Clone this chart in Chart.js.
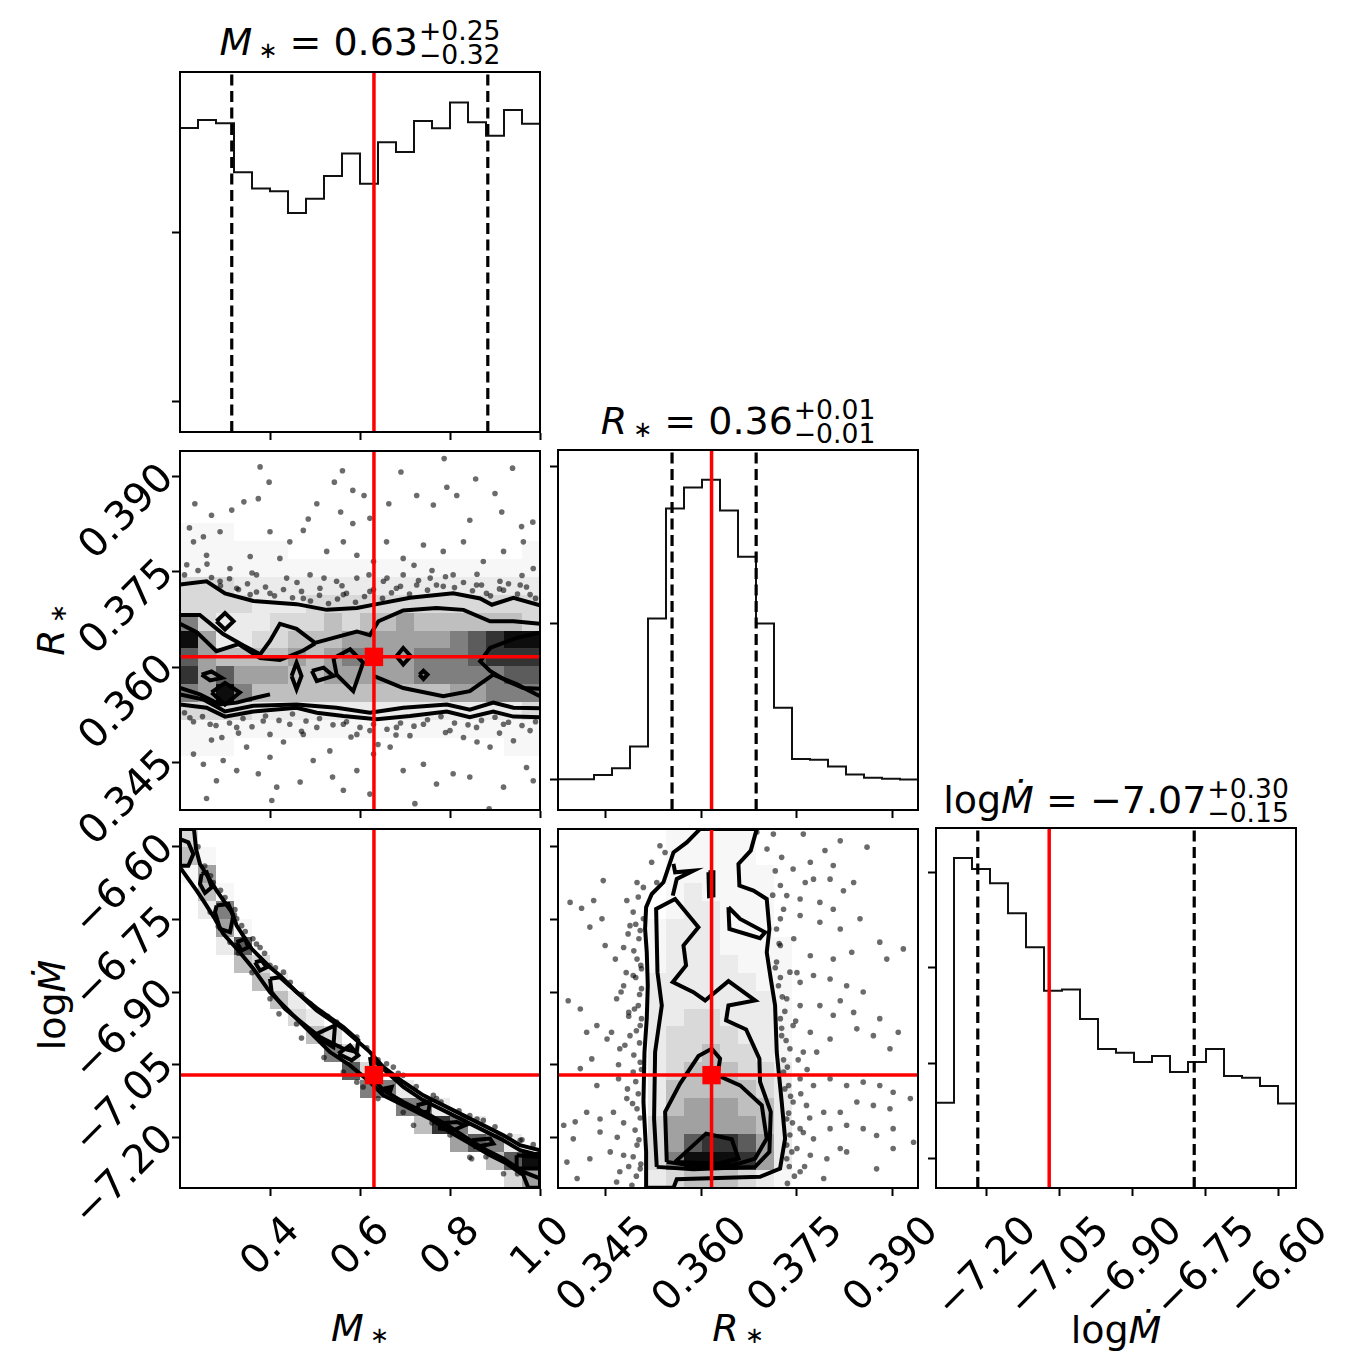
<!DOCTYPE html>
<html>
<head>
<meta charset="utf-8">
<title>corner plot</title>
<script src="https://cdn.jsdelivr.net/npm/chart.js@4.4.1/dist/chart.umd.min.js"></script>
<style>
  body { margin: 0; background: #fff; }
  #fig { position: relative; width: 1368px; height: 1368px; overflow: hidden; font-family: "DejaVu Sans", sans-serif; color: #000; }
  #fig canvas { position: absolute; }
  .ttl { position: absolute; font-size: 38px; white-space: nowrap; line-height: 1; transform: translateX(-50%); }
  .pm { display: inline-block; font-size: 0.7em; line-height: 0.92; vertical-align: -9px; margin-left: 1px; }
  .pm span { display: block; }
  .ax { position: absolute; font-size: 38px; white-space: nowrap; line-height: 1; transform: translateX(-50%); }
  .rot { transform: translate(-50%, -50%) rotate(-90deg); }
  sub { font-size: 0.6em; vertical-align: -0.1em; margin-left: 6px; }
  i { font-style: oblique; }
</style>
</head>
<body>
<div id="fig">
  <div class="ttl" style="left:360px;top:19px"><i>M</i><sub>∗</sub> = 0.63<span class="pm"><span>+0.25</span><span>−0.32</span></span></div>
  <div class="ttl" style="left:738px;top:398px"><i>R</i><sub>∗</sub> = 0.36<span class="pm"><span>+0.01</span><span>−0.01</span></span></div>
  <div class="ttl" style="left:1116px;top:777px">log<i>Ṁ</i> = −7.07<span class="pm"><span>+0.30</span><span>−0.15</span></span></div>
  <div class="ax" style="left:360px;top:1309px"><i>M</i><sub>∗</sub></div>
  <div class="ax" style="left:738px;top:1309px"><i>R</i><sub>∗</sub></div>
  <div class="ax" style="left:1116px;top:1311px">log<i>Ṁ</i></div>
  <div class="ax rot" style="left:51px;top:630px"><i>R</i><sub>∗</sub></div>
  <div class="ax rot" style="left:52px;top:1005px">log<i>Ṁ</i></div>
</div>
<script>
// ---- parameter ranges and ticks ----
const mRange = [0.2, 1.0];
const rRange = [0.3375, 0.3940];
const lRange = [-7.3045, -6.5635];
const mTicks = [0.4, 0.6, 0.8, 1.0];
const rTicks = [0.345, 0.360, 0.375, 0.390];
const lTicks = [-7.20, -7.05, -6.90, -6.75, -6.60];

// ---- 1d histograms (20 bins across each range) ----
const histM = [1.621, 1.669, 1.649, 1.359, 1.263, 1.247, 1.118, 1.203, 1.337, 1.470, 1.292, 1.537, 1.479, 1.663, 1.620, 1.772, 1.655, 1.576, 1.728, 1.647];
const histR = [0.004, 0.004, 0.032, 0.074, 0.213, 1.030, 1.731, 1.866, 1.915, 1.719, 1.424, 0.998, 0.461, 0.134, 0.128, 0.085, 0.034, 0.013, 0.008, 0.002];
const histL = [0.583, 3.152, 3.036, 2.888, 2.573, 2.215, 1.758, 1.772, 1.463, 1.147, 1.109, 1.011, 1.074, 0.905, 1.011, 1.147, 0.863, 0.846, 0.758, 0.576];
const histMRange = [-0.178, 1.953];
const histRRange = [-0.192, 2.105];
const histLRange = [-0.312, 3.467];
const histMTicks = [0, 1];
const histRTicks = [0, 1, 2];
const histLTicks = [0, 1, 2, 3];

// quantiles (16%, 84%) and truth values
const qM = [0.315, 0.884];
const qR = [0.3554, 0.3686];
const qL = [-7.2185, -6.773];
const truthM = 0.631;
const truthR = 0.3616;
const truthL = -7.0715;

// ---- 2d histogram grey levels (0-9), top row = highest y ----
const gridMR = [
  "00000000000000000000",
  "00000000000000000000",
  "00000000000000000000",
  "00000000000000000000",
  "11100000000000000000",
  "11111100000000000001",
  "11111111111111111111",
  "33322222222222222222",
  "33332223333333333333",
  "63222333434454444443",
  "95223344455555567899",
  "75444454566556667888",
  "85755544555556666677",
  "65964444444444455666",
  "33332222222222222223",
  "11111111111111111111",
  "11100000000000000011",
  "00000000000000000000",
  "00000000000000000000",
  "00000000000000000000"
];
const gridML = [
  "30000000000000000000",
  "41000000000000000000",
  "15000000000000000000",
  "04100000000000000000",
  "02600000000000000000",
  "00510000000000000000",
  "00270000000000000000",
  "00043000000000000000",
  "00004200000000000000",
  "00000420000000000000",
  "00000032000000000000",
  "00000004300000000000",
  "00000000630000000000",
  "00000000073000000000",
  "00000000006620000000",
  "00000000000066200000",
  "00000000000004862000",
  "00000000000000057620",
  "00000000000000000479",
  "00000000000000000035"
];
const gridRL = [
  "00000011111000000000",
  "00000011111000000000",
  "00000011111100000000",
  "00000012111100000000",
  "00000012211100000000",
  "00000122211100000000",
  "00000122211110000000",
  "00000122221110000000",
  "00000222222110000000",
  "00000222222210000000",
  "00000223322210000000",
  "00000233332210000000",
  "00000233433210000000",
  "00000234443320000000",
  "00000244444320000000",
  "00000245554420000000",
  "00000355555420000000",
  "00000357887520000000",
  "00000369998520000000",
  "00000234443210000000"
];

// ---- contours (data coordinates) ----
const mrTop1 = [[0.200,0.3730],[0.259,0.3735],[0.300,0.3716],[0.363,0.3704],[0.459,0.3699],[0.526,0.3690],[0.593,0.3693],[0.637,0.3699],[0.711,0.3709],[0.807,0.3716],[0.867,0.3708],[0.893,0.3698],[0.941,0.3709],[1.000,0.3697]];
const mrBot1 = [[0.200,0.3541],[0.259,0.3536],[0.300,0.3522],[0.363,0.3530],[0.459,0.3536],[0.504,0.3528],[0.563,0.3523],[0.637,0.3518],[0.711,0.3523],[0.793,0.3530],[0.844,0.3521],[0.896,0.3530],[0.941,0.3522],[1.000,0.3521]];
const mrOpen = [
  [[0.200,0.3682],[0.244,0.3682],[0.296,0.3652],[0.341,0.3634],[0.378,0.3620],[0.400,0.3641],[0.422,0.3668],[0.459,0.3660],[0.500,0.3638],[0.541,0.3646],[0.593,0.3656],[0.622,0.3650],[0.641,0.3672],[0.696,0.3689],[0.770,0.3693],[0.830,0.3690],[0.889,0.3672],[0.941,0.3672],[1.000,0.3668]],
  [[0.200,0.3557],[0.252,0.3549],[0.300,0.3530],[0.363,0.3539],[0.459,0.3541],[0.548,0.3536],[0.622,0.3528],[0.696,0.3536],[0.793,0.3541],[0.844,0.3533],[0.896,0.3544],[0.941,0.3536],[1.000,0.3535]],
  [[1.000,0.3654],[0.948,0.3646],[0.889,0.3630],[0.867,0.3609],[0.889,0.3594],[0.926,0.3578],[0.963,0.3567],[1.000,0.3566]],
  [[0.200,0.3668],[0.237,0.3655],[0.281,0.3625],[0.330,0.3636],[0.378,0.3614],[0.422,0.3611],[0.474,0.3626],[0.500,0.3637]],
  [[0.630,0.3586],[0.696,0.3567],[0.785,0.3554],[0.844,0.3562],[0.896,0.3588],[0.948,0.3573],[1.000,0.3554]],
  [[0.200,0.3567],[0.244,0.3557],[0.289,0.3541],[0.326,0.3544],[0.370,0.3552],[0.400,0.3557]]
];
const mrLoops = [
  [[0.281,0.3672],[0.300,0.3685],[0.319,0.3672],[0.300,0.3659]],
  [[0.448,0.3586],[0.459,0.3607],[0.470,0.3586],[0.459,0.3565]],
  [[0.681,0.3617],[0.696,0.3630],[0.713,0.3617],[0.696,0.3604]],
  [[0.732,0.3588],[0.741,0.3594],[0.750,0.3588],[0.741,0.3581]],
  [[0.248,0.3588],[0.270,0.3593],[0.293,0.3583],[0.267,0.3579]],
  [[0.270,0.3560],[0.300,0.3575],[0.333,0.3560],[0.300,0.3541]],
  [[0.541,0.3614],[0.578,0.3628],[0.607,0.3607],[0.585,0.3562],[0.548,0.3588]],
  [[0.493,0.3594],[0.519,0.3599],[0.541,0.3586],[0.504,0.3578]]
];

const mlOuter = [[0.2,-6.5636],[0.2311,-6.5636],[0.2356,-6.6048],[0.2444,-6.6357],[0.2815,-6.6907],[0.3148,-6.7353],[0.3259,-6.7628],[0.3593,-6.8109],[0.4,-6.8487],[0.4222,-6.8659],[0.4593,-6.9002],[0.5037,-6.9380],[0.5630,-6.9758],[0.6222,-7.0239],[0.6519,-7.0548],[0.6963,-7.0857],[0.7407,-7.1132],[0.8,-7.1407],[0.8444,-7.1613],[0.8889,-7.1819],[0.9185,-7.1956],[0.9556,-7.2162],[1.0,-7.2265],[1.0,-7.3042],[0.9741,-7.3042],[0.9630,-7.2781],[0.9259,-7.2540],[0.8889,-7.2368],[0.8444,-7.2128],[0.8,-7.1888],[0.7556,-7.1613],[0.6963,-7.1338],[0.6519,-7.1132],[0.6222,-7.0857],[0.5778,-7.0514],[0.5333,-7.0239],[0.4889,-6.9827],[0.4370,-6.9346],[0.4,-6.9002],[0.3630,-6.8521],[0.3296,-6.8143],[0.2963,-6.7800],[0.2778,-6.7491],[0.2519,-6.7113],[0.2370,-6.6907],[0.2,-6.6426]];
const mlOpen = [];
const mlLoops = [
  [[0.6222,-7.0342],[0.6963,-7.0960],[0.7407,-7.1235],[0.8,-7.1510],[0.8444,-7.1716],[0.8889,-7.1922],[0.9185,-7.2059],[0.9556,-7.2265],[1.0,-7.2368],[1.0,-7.2849],[0.9630,-7.2712],[0.9185,-7.2437],[0.8815,-7.2265],[0.8444,-7.2059],[0.8,-7.1784],[0.7556,-7.1544],[0.6963,-7.1269],[0.6519,-7.1029],[0.6296,-7.0788]],
  [[0.4,-6.8727],[0.4222,-6.8693],[0.4593,-6.9002],[0.5037,-6.9332],[0.5630,-6.9724],[0.5963,-6.9998],[0.5926,-7.0239],[0.5630,-7.0170],[0.5111,-6.9930],[0.4741,-6.9655],[0.4333,-6.9346],[0.4037,-6.9002]],
  [[0.2,-6.5842],[0.2185,-6.5911],[0.2296,-6.6151],[0.2185,-6.6392],[0.2,-6.6392]],
  [[0.2481,-6.6563],[0.2593,-6.6529],[0.2704,-6.6838],[0.2556,-6.6955],[0.2444,-6.6769]],
  [[0.2815,-6.7216],[0.3074,-6.7182],[0.3185,-6.7422],[0.3111,-6.7766],[0.2889,-6.7697],[0.2778,-6.7353]],
  [[0.3259,-6.7972],[0.3444,-6.7903],[0.3519,-6.8075],[0.3370,-6.8143]],
  [[0.3667,-6.8384],[0.3815,-6.8350],[0.3926,-6.8487],[0.3778,-6.8556]],
  [[0.4963,-6.9895],[0.5444,-6.9689],[0.5407,-7.0136]],
  [[0.5519,-7.0273],[0.5778,-7.0101],[0.5963,-7.0307],[0.5815,-7.0411]],
  [[0.6519,-7.0994],[0.6704,-7.0960],[0.6667,-7.1063]],
  [[0.7259,-7.1338],[0.7556,-7.1269],[0.7519,-7.1475],[0.7333,-7.1475]],
  [[0.7778,-7.1716],[0.8148,-7.1681],[0.8333,-7.1750],[0.8074,-7.1853],[0.7778,-7.1819]],
  [[0.8481,-7.2059],[0.8889,-7.2025],[0.8963,-7.2128],[0.8556,-7.2197]],
  [[0.9481,-7.2368],[1.0,-7.2403],[1.0,-7.2643],[0.9481,-7.2643]]
];

const rlOuter = [[0.35143,-7.3042],[0.35133,-7.2300],[0.35091,-7.1269],[0.35107,-7.0239],[0.35143,-6.9552],[0.35159,-6.8865],[0.35143,-6.8178],[0.35117,-6.7697],[0.35133,-6.7250],[0.35222,-6.6976],[0.35405,-6.6735],[0.35562,-6.6117],[0.35771,-6.5911],[0.35954,-6.5670],[0.35980,-6.5636],[0.36869,-6.5636],[0.36775,-6.6082],[0.36582,-6.6357],[0.36597,-6.6804],[0.36817,-6.6907],[0.37026,-6.7079],[0.37068,-6.7697],[0.37026,-6.8178],[0.37089,-6.8727],[0.37157,-6.9277],[0.37183,-7.0239],[0.37261,-7.1269],[0.37314,-7.2025],[0.37235,-7.2643],[0.36921,-7.2815],[0.35614,-7.2863],[0.35562,-7.3042]];
const rlOpen = [
  [[0.35562,-6.6357],[0.35588,-6.6529],[0.35875,-6.6495],[0.35614,-6.6666],[0.35551,-6.7010]]
];
const rlLoops = [
  [[0.35300,-7.2609],[0.35258,-7.1613],[0.35274,-7.0239],[0.35379,-6.9277],[0.35311,-6.8590],[0.35290,-6.7285],[0.35588,-6.7079],[0.35954,-6.7663],[0.35719,-6.8040],[0.35760,-6.8453],[0.35551,-6.8796],[0.35875,-6.9002],[0.36059,-6.9174],[0.36425,-6.8775],[0.36843,-6.9174],[0.36425,-6.9277],[0.36388,-6.9586],[0.36702,-6.9772],[0.36911,-7.0376],[0.36921,-7.0857],[0.37089,-7.1475],[0.37068,-7.2300],[0.36843,-7.2609],[0.35875,-7.2657]],
  [[0.35457,-7.2506],[0.35431,-7.1475],[0.35666,-7.0891],[0.35954,-7.0321],[0.36163,-7.0170],[0.36294,-7.0376],[0.36252,-7.0720],[0.36608,-7.0926],[0.36948,-7.1338],[0.37026,-7.2025],[0.36843,-7.2437],[0.36503,-7.2575],[0.35823,-7.2575]],
  [[0.35588,-7.2506],[0.36074,-7.1922],[0.36477,-7.2039],[0.36582,-7.2437],[0.36268,-7.2540]],
  [[0.36425,-6.7250],[0.36440,-6.7697],[0.36921,-6.7889],[0.37000,-6.7766],[0.36608,-6.7491]],
  [[0.36111,-6.6529],[0.36189,-6.6529],[0.36189,-6.7010],[0.36121,-6.7024]]
];

// ---- individual samples outside the contours ----
const ptsMR = [[0.378,0.3915],[0.398,0.3891],[0.561,0.3909],[0.543,0.3891],[0.787,0.3928],[0.939,0.3913],[0.857,0.3896],[0.691,0.3907],[0.584,0.3878],[0.609,0.3870],[0.504,0.3857],[0.557,0.3844],[0.485,0.3833],[0.584,0.3826],[0.622,0.3834],[0.664,0.3857],[0.726,0.3870],[0.763,0.3855],[0.793,0.3883],[0.815,0.3870],[0.844,0.3831],[0.900,0.3873],[0.915,0.3844],[0.984,0.3828],[0.959,0.3821],[0.270,0.3839],[0.233,0.3857],[0.315,0.3847],[0.342,0.3860],[0.374,0.3865],[0.221,0.3819],[0.252,0.3805],[0.230,0.3797],[0.289,0.3813],[0.356,0.3774],[0.400,0.3813],[0.422,0.3771],[0.444,0.3797],[0.474,0.3815],[0.526,0.3782],[0.563,0.3797],[0.593,0.3776],[0.630,0.3766],[0.659,0.3797],[0.696,0.3771],[0.741,0.3792],[0.785,0.3782],[0.830,0.3797],[0.874,0.3766],[0.919,0.3782],[0.963,0.3797],[0.985,0.3755],[0.215,0.3761],[0.259,0.3776],[0.311,0.3755],[0.370,0.3745],[0.437,0.3740],[0.489,0.3745],[0.548,0.3735],[0.593,0.3740],[0.652,0.3735],[0.696,0.3745],[0.756,0.3740],[0.807,0.3745],[0.859,0.3729],[0.911,0.3735],[0.956,0.3729],[0.326,0.3724],[0.400,0.3716],[0.474,0.3708],[0.511,0.3724],[0.563,0.3714],[0.622,0.3719],[0.681,0.3724],[0.726,0.3729],[0.785,0.3727],[0.881,0.3716],[0.919,0.3721],[0.978,0.3714],[0.289,0.3735],[0.356,0.3714],
  [0.21,0.3745],[0.24,0.3752],[0.27,0.3741],[0.29,0.3728],[0.31,0.3739],[0.33,0.3722],[0.35,0.3731],[0.37,0.3718],[0.39,0.3726],[0.41,0.3712],[0.43,0.3722],[0.45,0.3709],[0.47,0.3719],[0.49,0.3704],[0.51,0.3713],[0.53,0.3700],[0.55,0.3707],[0.57,0.3716],[0.59,0.3702],[0.61,0.3711],[0.63,0.3722],[0.65,0.3708],[0.67,0.3717],[0.69,0.3727],[0.71,0.3715],[0.73,0.3736],[0.75,0.3721],[0.77,0.3729],[0.79,0.3742],[0.81,0.3725],[0.83,0.3733],[0.85,0.3720],[0.87,0.3729],[0.89,0.3712],[0.91,0.3723],[0.93,0.3731],[0.95,0.3715],[0.97,0.3726],[0.99,0.3708],[0.46,0.3733],[0.56,0.3728],[0.66,0.3740],[0.76,0.3752],[0.86,0.3746],[0.96,0.3744],[0.36,0.3748],[0.26,0.3762],[0.62,0.3745],[0.72,0.3760],[0.52,0.3740],
  [0.222,0.3520],[0.267,0.3510],[0.326,0.3505],[0.385,0.3515],[0.444,0.3510],[0.504,0.3505],[0.563,0.3510],[0.622,0.3500],[0.681,0.3505],[0.741,0.3510],[0.800,0.3500],[0.859,0.3505],[0.919,0.3510],[0.978,0.3500],[0.400,0.3494],[0.474,0.3494],[0.593,0.3494],[0.711,0.3492],[0.830,0.3489],[0.230,0.3463],[0.252,0.3447],[0.293,0.3489],[0.296,0.3453],[0.348,0.3474],[0.400,0.3458],[0.415,0.3411],[0.467,0.3419],[0.496,0.3453],[0.533,0.3468],[0.539,0.3427],[0.563,0.3406],[0.593,0.3437],[0.630,0.3463],[0.667,0.3474],[0.696,0.3437],[0.722,0.3385],[0.741,0.3447],[0.770,0.3416],[0.807,0.3432],[0.844,0.3427],[0.887,0.3377],[0.919,0.3411],[0.970,0.3442],[0.985,0.3421],[0.259,0.3393],[0.281,0.3421],[0.326,0.3437],[0.374,0.3432],[0.404,0.3390],[0.622,0.3400],[0.889,0.3474],[0.941,0.3484],
  [0.21,0.3528],[0.23,0.3514],[0.25,0.3522],[0.28,0.3508],[0.31,0.3512],[0.34,0.3519],[0.36,0.3506],[0.39,0.3523],[0.42,0.3516],[0.45,0.3526],[0.48,0.3515],[0.51,0.3519],[0.54,0.3509],[0.57,0.3514],[0.60,0.3505],[0.63,0.3510],[0.66,0.3502],[0.69,0.3512],[0.72,0.3507],[0.75,0.3517],[0.78,0.3522],[0.81,0.3512],[0.84,0.3509],[0.87,0.3516],[0.90,0.3521],[0.93,0.3513],[0.96,0.3508],[0.99,0.3514],[0.33,0.3496],[0.47,0.3499],[0.58,0.3490],[0.68,0.3493],[0.79,0.3497],[0.91,0.3496],[0.27,0.3485],[0.43,0.3482],[0.64,0.3478],[0.86,0.3482]];
const ptsML = [[0.240,-6.600],[0.248,-6.646],[0.274,-6.674],[0.293,-6.708],[0.326,-6.749],[0.337,-6.763],[0.370,-6.801],[0.378,-6.808],[0.400,-6.845],[0.430,-6.859],[0.489,-6.924],[0.511,-6.942],[0.548,-6.962],[0.559,-6.979],[0.593,-6.993],[0.659,-7.048],[0.674,-7.055],[0.696,-7.072],[0.763,-7.113],[0.770,-7.120],[0.844,-7.155],[0.874,-7.165],[0.933,-7.196],[0.956,-7.206],[0.230,-6.670],[0.259,-6.715],[0.311,-6.797],[0.400,-6.914],[0.459,-6.966],[0.563,-7.065],[0.593,-7.086],[0.607,-7.096],[0.696,-7.148],[0.719,-7.175],[0.844,-7.241],[0.919,-7.275],[0.848,-7.244],
  [0.255,-6.640],[0.268,-6.660],[0.290,-6.690],[0.300,-6.705],[0.322,-6.730],[0.321,-6.741],[0.345,-6.775],[0.362,-6.790],[0.388,-6.820],[0.412,-6.850],[0.445,-6.880],[0.470,-6.905],[0.528,-6.950],[0.575,-6.985],[0.615,-7.015],[0.640,-7.040],[0.685,-7.068],[0.725,-7.095],[0.780,-7.127],[0.820,-7.145],[0.860,-7.162],[0.900,-7.178],[0.960,-7.205],[0.985,-7.215],[0.267,-6.735],[0.285,-6.765],[0.330,-6.820],[0.360,-6.860],[0.420,-6.945],[0.470,-6.995],[0.520,-7.035],[0.640,-7.120],[0.760,-7.170],[0.800,-7.195],[0.880,-7.240],[0.950,-7.275]];
const ptsRL = [[0.3394,-6.715],[0.3412,-6.727],[0.3431,-6.711],[0.3444,-6.749],[0.3425,-6.766],[0.3449,-6.804],[0.3465,-6.832],[0.3483,-6.711],[0.3488,-6.763],[0.3499,-6.674],[0.3509,-6.684],[0.3530,-6.674],[0.3535,-6.598],[0.3543,-6.612],[0.3522,-6.632],[0.3446,-6.670],[0.3493,-6.735],[0.3504,-6.773],[0.3478,-6.808],[0.3499,-6.832],[0.3506,-6.852],[0.3493,-6.866],[0.3478,-6.887],[0.3467,-6.914],[0.3436,-6.969],[0.3420,-6.983],[0.3391,-6.918],[0.3410,-6.935],[0.3486,-6.942],[0.3501,-6.928],[0.3504,-6.969],[0.3488,-6.990],[0.3472,-7.017],[0.3452,-6.997],[0.3428,-7.038],[0.3410,-7.058],[0.3436,-7.093],[0.3470,-7.079],[0.3493,-7.065],[0.3504,-7.045],[0.3483,-7.120],[0.3499,-7.141],[0.3462,-7.148],[0.3441,-7.162],[0.3420,-7.148],[0.3402,-7.168],[0.3384,-7.175],[0.3399,-7.203],[0.3441,-7.189],[0.3457,-7.230],[0.3478,-7.237],[0.3499,-7.216],[0.3504,-7.265],[0.3472,-7.271],[0.3425,-7.244],[0.3389,-7.251],[0.3405,-7.285],[0.3467,-7.292],[0.3491,-7.299],[0.3459,-6.983],[0.3506,-6.893],[0.3509,-6.749],[0.3501,-6.704],
  [0.3713,-6.574],[0.3687,-6.570],[0.3760,-6.574],[0.3703,-6.605],[0.3726,-6.622],[0.3744,-6.646],[0.3771,-6.632],[0.3794,-6.608],[0.3818,-6.588],[0.3807,-6.639],[0.3802,-6.667],[0.3776,-6.667],[0.3763,-6.674],[0.3724,-6.680],[0.3734,-6.701],[0.3755,-6.708],[0.3786,-6.715],[0.3807,-6.729],[0.3823,-6.691],[0.3839,-6.674],[0.3860,-6.601],[0.3729,-6.729],[0.3724,-6.749],[0.3755,-6.742],[0.3786,-6.756],[0.3818,-6.770],[0.3849,-6.749],[0.3880,-6.797],[0.3891,-6.832],[0.3917,-6.811],[0.3836,-6.818],[0.3807,-6.832],[0.3771,-6.825],[0.3724,-6.804],[0.3718,-6.838],[0.3739,-6.859],[0.3755,-6.880],[0.3776,-6.866],[0.3802,-6.873],[0.3828,-6.887],[0.3854,-6.900],[0.3818,-6.918],[0.3786,-6.928],[0.3755,-6.928],[0.3734,-6.914],[0.3724,-6.955],[0.3744,-6.969],[0.3771,-6.983],[0.3807,-6.948],[0.3839,-6.942],[0.3880,-6.955],[0.3909,-6.983],[0.3896,-7.017],[0.3870,-6.990],[0.3844,-6.976],[0.3802,-6.997],[0.3781,-7.024],[0.3760,-7.024],[0.3739,-7.017],[0.3729,-7.065],[0.3755,-7.079],[0.3776,-7.093],[0.3802,-7.079],[0.3828,-7.093],[0.3854,-7.086],[0.3880,-7.093],[0.3901,-7.107],[0.3928,-7.120],[0.3896,-7.141],[0.3870,-7.134],[0.3844,-7.127],[0.3818,-7.148],[0.3792,-7.148],[0.3765,-7.134],[0.3744,-7.127],[0.3734,-7.162],[0.3755,-7.182],[0.3776,-7.203],[0.3802,-7.182],[0.3828,-7.175],[0.3854,-7.182],[0.3875,-7.196],[0.3901,-7.182],[0.3933,-7.210],[0.3901,-7.223],[0.3818,-7.223],[0.3797,-7.244],[0.3771,-7.237],[0.3750,-7.223],[0.3734,-7.244],[0.3755,-7.271],[0.3792,-7.285],[0.3828,-7.230],[0.3875,-7.265],[0.3734,-7.216],[0.3737,-7.093],[0.3726,-6.990],[0.3721,-6.887],
  [0.3497,-6.760],[0.3502,-6.790],[0.3494,-6.815],[0.3505,-6.845],[0.3497,-6.870],[0.3503,-6.905],[0.3495,-6.935],[0.3506,-6.955],[0.3498,-6.980],[0.3503,-7.005],[0.3494,-7.030],[0.3506,-7.060],[0.3497,-7.085],[0.3501,-7.110],[0.3492,-7.130],[0.3504,-7.160],[0.3496,-7.185],[0.3502,-7.205],[0.3493,-7.240],[0.3505,-7.255],[0.3498,-7.280],[0.3485,-6.780],[0.3482,-6.860],[0.3486,-6.950],[0.3480,-7.010],[0.3484,-7.100],[0.3478,-7.170],[0.3486,-7.260],[0.3474,-6.900],[0.3470,-7.050],[0.3468,-7.200],
  [0.3718,-6.770],[0.3722,-6.800],[0.3716,-6.850],[0.3724,-6.870],[0.3727,-6.910],[0.3731,-6.940],[0.3726,-6.975],[0.3733,-7.000],[0.3729,-7.040],[0.3735,-7.055],[0.3731,-7.100],[0.3740,-7.115],[0.3737,-7.150],[0.3743,-7.170],[0.3739,-7.195],[0.3742,-7.230],[0.3738,-7.260],[0.3746,-7.280],[0.3735,-7.295],[0.3748,-6.960],[0.3752,-7.040],[0.3756,-7.110],[0.3760,-7.190],[0.3750,-6.860],[0.3762,-7.260],[0.3712,-6.700],[0.3716,-6.650],[0.3766,-7.060],[0.3770,-7.160],[0.3745,-6.790]];

// ---- layout ----
const SIZE = 360;
const colLeft = [180, 558, 936];
const rowTop = [72, 450, 828];
const ML = 190, MB = 190, MT = 12, MR = 70;
const shade = [0, 0.03, 0.08, 0.15, 0.25, 0.37, 0.5, 0.64, 0.8, 0.95];
const fontName = 'DejaVu Sans';
const tickFont = 40;
const layers = {};

const densityLayer = {
  id: 'densityLayer',
  afterDatasetDraw(chart, args) {
    const layer = layers[chart.canvas.id];
    if (!layer || chart.data.datasets[args.index].label !== 'samples') return;
    const { ctx, chartArea: a } = chart;
    const xs = chart.scales.x, ys = chart.scales.y;
    ctx.save();
    ctx.beginPath();
    ctx.rect(a.left, a.top, a.width, a.height);
    ctx.clip();
    // white base inside the outer contour hides the dense samples
    ctx.beginPath();
    layer.outer.forEach(([px, py], i) => {
      const X = xs.getPixelForValue(px), Y = ys.getPixelForValue(py);
      if (i) ctx.lineTo(X, Y); else ctx.moveTo(X, Y);
    });
    ctx.closePath();
    ctx.fillStyle = '#fff';
    ctx.fill();
    // 2d histogram cells
    const ny = layer.grid.length, nx = layer.grid[0].length;
    const dx = (xs.max - xs.min) / nx, dy = (ys.max - ys.min) / ny;
    layer.grid.forEach((row, r) => {
      [...row].forEach((ch, c) => {
        const lv = +ch;
        if (!lv) return;
        const x0 = Math.round(xs.getPixelForValue(xs.min + c * dx));
        const x1 = Math.round(xs.getPixelForValue(xs.min + (c + 1) * dx));
        const y0 = Math.round(ys.getPixelForValue(ys.max - r * dy));
        const y1 = Math.round(ys.getPixelForValue(ys.max - (r + 1) * dy));
        ctx.fillStyle = 'rgba(0,0,0,' + shade[lv] + ')';
        ctx.fillRect(x0, y0, x1 - x0, y1 - y0);
      });
    });
    ctx.restore();
  }
};

const frame = {
  id: 'frame',
  afterDraw(chart) {
    const { ctx, chartArea: a } = chart;
    ctx.save();
    ctx.strokeStyle = '#000';
    ctx.lineWidth = 2;
    ctx.strokeRect(a.left, a.top, a.width, a.height);
    ctx.restore();
  }
};
Chart.register(densityLayer, frame);

const fmtM = v => v.toFixed(1);
const fmtR = v => v.toFixed(3);
const fmtL = v => v.toFixed(2).replace('-', '\u2212');

function axis(range, ticks, fmt, showLabels, isX, offset) {
  return {
    type: 'linear',
    min: range[0],
    max: range[1],
    afterBuildTicks: s => { s.ticks = ticks.map(v => ({ value: v })); },
    afterFit: s => {
      if (isX) s.height = MB; else s.width = ML;
      s.paddingLeft = s.paddingRight = s.paddingTop = s.paddingBottom = 0;
    },
    ticks: {
      display: showLabels,
      callback: fmt,
      minRotation: 45,
      maxRotation: 45,
      padding: isX ? 12 : 4,
      labelOffset: offset || 0,
      color: '#000',
      font: { family: fontName, size: tickFont }
    },
    grid: { drawOnChartArea: false, drawTicks: true, tickLength: 8, tickWidth: 2, tickColor: '#000' },
    border: { display: true, color: '#000', width: 2 }
  };
}

function makeCanvas(id, col, row) {
  const c = document.createElement('canvas');
  c.id = id;
  c.width = ML + SIZE + MR;
  c.height = MT + SIZE + MB;
  c.style.left = (colLeft[col] - ML) + 'px';
  c.style.top = (rowTop[row] - MT) + 'px';
  document.getElementById('fig').appendChild(c);
  return c;
}

function vline(x, yr, color, dash) {
  return {
    type: 'line', data: [{ x: x, y: yr[0] }, { x: x, y: yr[1] }],
    borderColor: color, borderWidth: dash ? 3.2 : 3.5, borderDash: dash || [], pointRadius: 0, fill: false, order: 2
  };
}
function hline(y, xr) {
  return {
    type: 'line', data: [{ x: xr[0], y: y }, { x: xr[1], y: y }],
    borderColor: '#ff0000', borderWidth: 3.5, pointRadius: 0, fill: false, order: 2
  };
}
function contour(pts, closed) {
  const d = pts.map(p => ({ x: p[0], y: p[1] }));
  if (closed) d.push(d[0]);
  return { type: 'line', data: d, borderColor: '#000', borderWidth: 4, pointRadius: 0, fill: false, tension: 0, order: 4 };
}

const baseOptions = (xAx, yAx) => ({
  responsive: false,
  animation: false,
  events: [],
  layout: { padding: { left: 0, bottom: 0, top: MT, right: MR } },
  plugins: { legend: { display: false }, tooltip: { enabled: false } },
  scales: { x: xAx, y: yAx }
});

// x label offsets so the rotated labels sit centred under their ticks
const offM = 24, offR = 40, offL = 44, offY = -4;

function histPanel(id, col, row, range, ticks, fmt, counts, yRange, yTicks, q, truth, showX, xOff) {
  const edges = counts.map((_, i) => range[0] + i * (range[1] - range[0]) / counts.length);
  const steps = counts.map((v, i) => ({ x: edges[i], y: v }));
  steps.push({ x: range[1], y: counts[counts.length - 1] });
  new Chart(makeCanvas(id, col, row), {
    type: 'scatter',
    data: {
      datasets: [
        { type: 'line', data: steps, stepped: true, borderColor: '#111', borderWidth: 2, pointRadius: 0, fill: false, order: 5 },
        vline(q[0], yRange, '#000', [11, 5.5]),
        vline(q[1], yRange, '#000', [11, 5.5]),
        Object.assign(vline(truth, yRange, '#ff0000'), { order: 1 })
      ]
    },
    options: baseOptions(axis(range, ticks, fmt, showX, true, xOff), axis(yRange, yTicks, () => '', false, false))
  });
}

function pairPanel(id, col, row, xr, xt, fx, xOff, yr, yt, fy, showX, showY, layer, pts, lines, tx, ty) {
  layers[id] = layer;
  const sets = [
    { label: 'samples', data: pts.map(p => ({ x: p[0], y: p[1] })), pointRadius: 2.8, pointBackgroundColor: 'rgba(0,0,0,0.58)', pointBorderWidth: 0, showLine: false, order: 9 }
  ];
  lines.forEach(l => sets.push(contour(l.pts, l.closed)));
  sets.push(vline(tx, yr, '#ff0000'));
  sets.push(hline(ty, xr));
  sets.push({ data: [{ x: tx, y: ty }], pointStyle: 'rect', pointRadius: 13, pointBackgroundColor: '#ff0000', pointBorderWidth: 0, showLine: false, order: 1 });
  new Chart(makeCanvas(id, col, row), {
    type: 'scatter',
    data: { datasets: sets },
    options: baseOptions(axis(xr, xt, fx, showX, true, xOff), axis(yr, yt, fy, showY, false, offY))
  });
}

const asLines = (open, loops) => open.map(p => ({ pts: p, closed: false })).concat(loops.map(p => ({ pts: p, closed: true })));

// top row
histPanel('pMM', 0, 0, mRange, mTicks, fmtM, histM, histMRange, histMTicks, qM, truthM, false, offM);
// middle row
pairPanel('pMR', 0, 1, mRange, mTicks, fmtM, offM, rRange, rTicks, fmtR, false, true,
  { grid: gridMR, outer: mrTop1.concat(mrBot1.slice().reverse()) }, ptsMR,
  asLines([mrTop1, mrBot1].concat(mrOpen), mrLoops), truthM, truthR);
histPanel('pRR', 1, 1, rRange, rTicks, fmtR, histR, histRRange, histRTicks, qR, truthR, false, offR);
// bottom row
pairPanel('pML', 0, 2, mRange, mTicks, fmtM, offM, lRange, lTicks, fmtL, true, true,
  { grid: gridML, outer: mlOuter }, ptsML,
  asLines(mlOpen, [mlOuter].concat(mlLoops)), truthM, truthL);
pairPanel('pRL', 1, 2, rRange, rTicks, fmtR, offR, lRange, lTicks, fmtL, true, false,
  { grid: gridRL, outer: rlOuter }, ptsRL,
  asLines(rlOpen, [rlOuter].concat(rlLoops)), truthR, truthL);
histPanel('pLL', 2, 2, lRange, lTicks, fmtL, histL, histLRange, histLTicks, qL, truthL, true, offL);
</script>
</body>
</html>
